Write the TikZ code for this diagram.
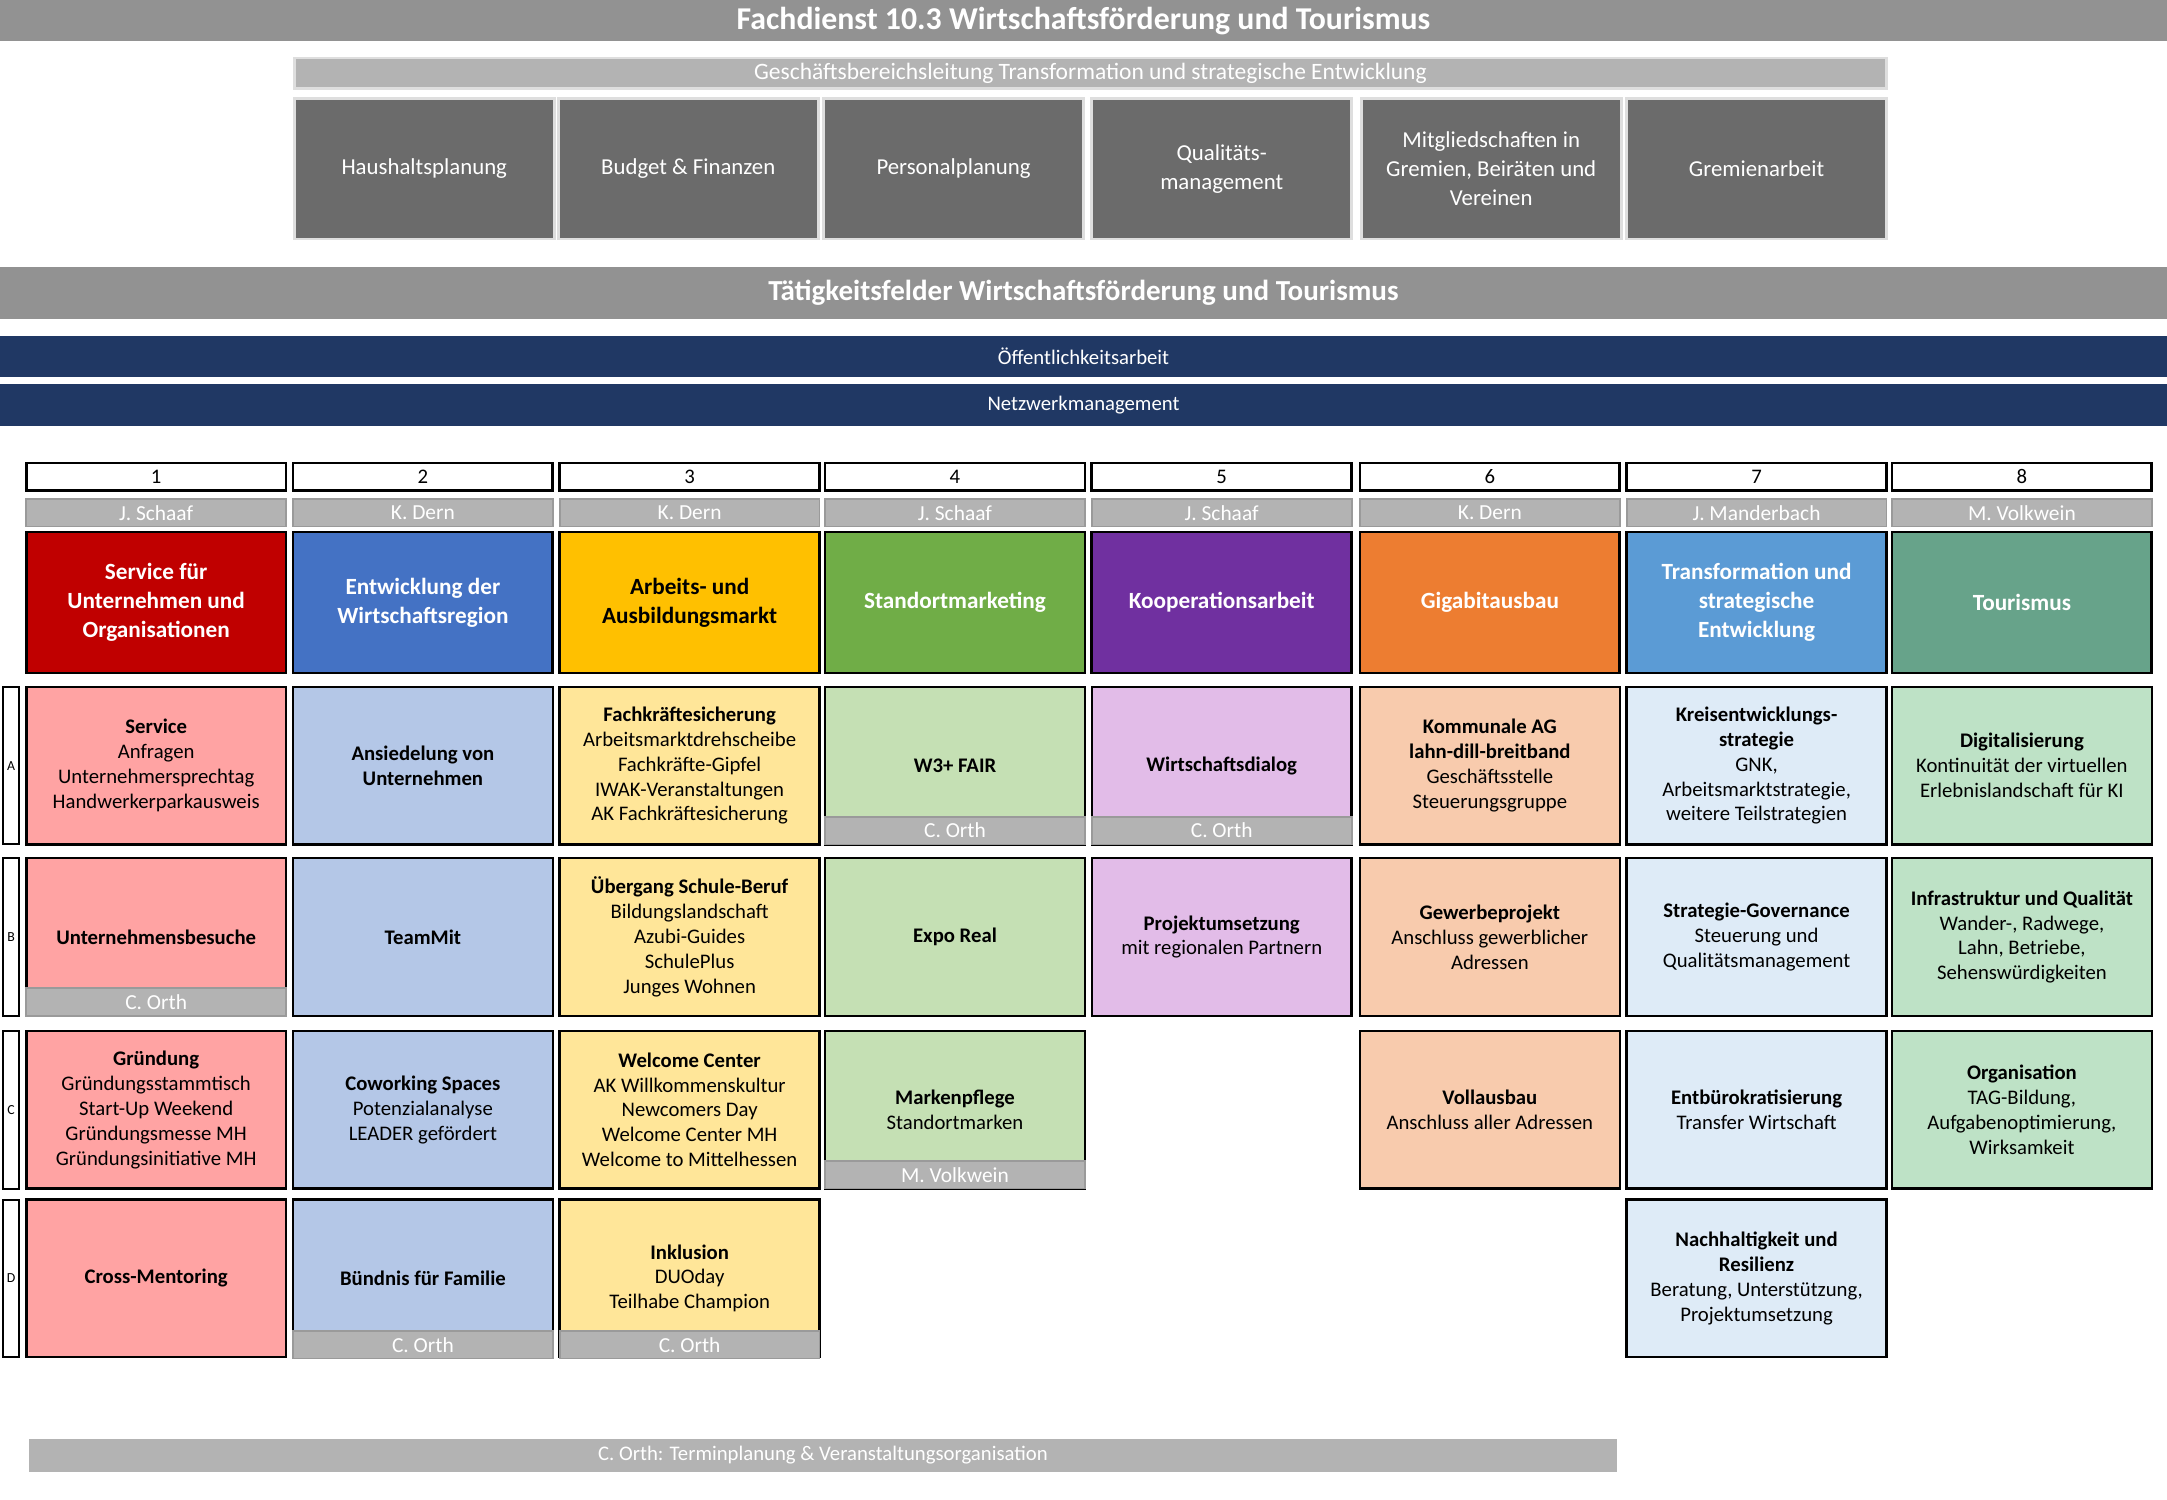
\documentclass[tikz,border=0pt]{standalone}
\usepackage{fontspec}
\setmainfont{Carlito}
\definecolor{titlegray}{HTML}{929292}
\definecolor{bandgray}{HTML}{B3B3B3}
\definecolor{bandedge}{HTML}{9A9A9A}
\definecolor{lightedge}{HTML}{DEDEDE}
\definecolor{darkbox}{HTML}{6B6B6B}
\definecolor{navy}{HTML}{203864}
\definecolor{hA}{HTML}{C00000}
\definecolor{hB}{HTML}{4472C4}
\definecolor{hC}{HTML}{FFC000}
\definecolor{hD}{HTML}{70AD47}
\definecolor{hE}{HTML}{7030A0}
\definecolor{hF}{HTML}{ED7D31}
\definecolor{hG}{HTML}{5B9BD5}
\definecolor{hH}{HTML}{67A38A}
\definecolor{cA}{HTML}{FFA3A3}
\definecolor{cB}{HTML}{B4C7E7}
\definecolor{cC}{HTML}{FFE699}
\definecolor{cD}{HTML}{C5E0B4}
\definecolor{cE}{HTML}{E2BCE8}
\definecolor{cF}{HTML}{F8CBAD}
\definecolor{cG}{HTML}{DEEBF7}
\definecolor{cH}{HTML}{BEE2C6}
\begin{document}
\begin{tikzpicture}[x=1pt,y=-1pt,
  every node/.style={inner sep=0pt, outer sep=0pt, align=center},
  wide/.style={anchor=north west, text=white},
  topbox/.style={fill=darkbox, draw=lightedge, line width=2pt, text=white, font=\fontsize{16.5}{21}\selectfont, minimum width=188pt, minimum height=102pt, anchor=north west},
  numbox/.style={draw=black, line width=2pt, fill=white, font=\fontsize{15}{16}\selectfont, minimum width=188pt, minimum height=20pt, anchor=north west},
  band/.style={fill=bandgray, draw=bandedge, line width=1.3pt, text=white, font=\fontsize{15.5}{16}\selectfont, minimum width=188pt, minimum height=20pt, anchor=north west},
  hdr/.style={draw=black, line width=2pt, text=white, font=\fontsize{16.8}{21}\selectfont\bfseries, minimum width=188pt, minimum height=102pt, anchor=north west},
  cell/.style={draw=black, line width=1.8pt, text=black, font=\fontsize{15}{18}\selectfont, minimum width=188pt, minimum height=114pt, anchor=north west},
  rowlab/.style={draw=black, line width=1.5pt, fill=white, font=\fontsize{10}{11}\selectfont, minimum width=12pt, minimum height=114pt, anchor=north west}
]
\useasboundingbox (0,0) rectangle (1568,1085);

% top bars
\node[wide, fill=titlegray, minimum width=1568pt, minimum height=30pt, font=\fontsize{23}{26}\selectfont\bfseries] (title) at (0,0) {Fachdienst 10.3 Wirtschaftsförderung und Tourismus};
\node[wide, fill=bandgray, draw=lightedge, line width=2pt, minimum width=1152pt, minimum height=22pt, font=\fontsize{17}{18}\selectfont] (gbl) at (213,42) {Geschäftsbereichsleitung Transformation und strategische Entwicklung};

\node[topbox] (t1) at (213,71) {Haushaltsplanung};
\node[topbox] (t2) at (404,71) {Budget \& Finanzen};
\node[topbox] (t3) at (596,71) {Personalplanung};
\node[topbox] (t4) at (790,71) {Qualitäts-\\management};
\node[topbox] (t5) at (985,71) {Mitgliedschaften in\\Gremien, Beiräten und\\Vereinen};
\node[topbox] (t6) at (1177,71) {Gremienarbeit};

\node[wide, fill=titlegray, minimum width=1568pt, minimum height=38pt, font=\fontsize{21}{24}\selectfont\bfseries] (tf) at (0,193) {Tätigkeitsfelder Wirtschaftsförderung und Tourismus};
\node[wide, fill=navy, minimum width=1568pt, minimum height=30pt, font=\fontsize{15}{16}\selectfont] (oa) at (0,243) {Öffentlichkeitsarbeit};
\node[wide, fill=navy, minimum width=1568pt, minimum height=30pt, font=\fontsize{15}{16}\selectfont] (nm) at (0,278) {Netzwerkmanagement};

% numbers
\node[numbox] (n1) at (19,335) {1};
\node[numbox] (n2) at (212,335) {2};
\node[numbox] (n3) at (405,335) {3};
\node[numbox] (n4) at (597,335) {4};
\node[numbox] (n5) at (790,335) {5};
\node[numbox] (n6) at (984,335) {6};
\node[numbox] (n7) at (1177,335) {7};
\node[numbox] (n8) at (1369,335) {8};

% persons
\node[band] (p1) at (19,361) {J. Schaaf};
\node[band] (p2) at (212,361) {K. Dern};
\node[band] (p3) at (405,361) {K. Dern};
\node[band] (p4) at (597,361) {J. Schaaf};
\node[band] (p5) at (790,361) {J. Schaaf};
\node[band] (p6) at (984,361) {K. Dern};
\node[band] (p7) at (1177,361) {J. Manderbach};
\node[band] (p8) at (1369,361) {M. Volkwein};

% headers
\node[hdr, fill=hA] (h1) at (19,385) {Service für\\Unternehmen und\\Organisationen};
\node[hdr, fill=hB] (h2) at (212,385) {Entwicklung der\\Wirtschaftsregion};
\node[hdr, fill=hC, text=black] (h3) at (405,385) {Arbeits- und\\Ausbildungsmarkt};
\node[hdr, fill=hD] (h4) at (597,385) {Standortmarketing};
\node[hdr, fill=hE] (h5) at (790,385) {Kooperationsarbeit};
\node[hdr, fill=hF] (h6) at (984,385) {Gigabitausbau};
\node[hdr, fill=hG] (h7) at (1177,385) {Transformation und\\strategische\\Entwicklung};
\node[hdr, fill=hH] (h8) at (1369,385) {Tourismus};

% row labels
\node[rowlab] (rA) at (2,497) {A};
\node[rowlab] (rB) at (2,621) {B};
\node[rowlab] (rC) at (2,746) {C};
\node[rowlab] (rD) at (2,868) {D};

% row A
\node[cell, fill=cA] (a1) at (19,497) {\textbf{Service}\\Anfragen\\Unternehmersprechtag\\Handwerkerparkausweis};
\node[cell, fill=cB] (a2) at (212,497) {\textbf{Ansiedelung von}\\\textbf{Unternehmen}};
\node[cell, fill=cC] (a3) at (405,497) {\textbf{Fachkräftesicherung}\\Arbeitsmarktdrehscheibe\\Fachkräfte-Gipfel\\IWAK-Veranstaltungen\\AK Fachkräftesicherung};
\node[cell, fill=cD] (a4) at (597,497) {\textbf{W3+ FAIR}};
\node[cell, fill=cE] (a5) at (790,497) {\textbf{Wirtschaftsdialog}};
\node[cell, fill=cF] (a6) at (984,497) {\textbf{Kommunale AG}\\\textbf{lahn-dill-breitband}\\Geschäftsstelle\\Steuerungsgruppe};
\node[cell, fill=cG] (a7) at (1177,497) {\textbf{Kreisentwicklungs-}\\\textbf{strategie}\\GNK,\\Arbeitsmarktstrategie,\\weitere Teilstrategien};
\node[cell, fill=cH] (a8) at (1369,497) {\textbf{Digitalisierung}\\Kontinuität der virtuellen\\Erlebnislandschaft für KI};
\node[band] (a4b) at (597,591) {C. Orth};
\node[band] (a5b) at (790,591) {C. Orth};

% row B
\node[cell, fill=cA] (b1) at (19,621) {\textbf{Unternehmensbesuche}};
\node[cell, fill=cB] (b2) at (212,621) {\textbf{TeamMit}};
\node[cell, fill=cC] (b3) at (405,621) {\textbf{Übergang Schule-Beruf}\\Bildungslandschaft\\Azubi-Guides\\SchulePlus\\Junges Wohnen};
\node[cell, fill=cD] (b4) at (597,621) {\textbf{Expo Real}};
\node[cell, fill=cE] (b5) at (790,621) {\textbf{Projektumsetzung}\\mit regionalen Partnern};
\node[cell, fill=cF] (b6) at (984,621) {\textbf{Gewerbeprojekt}\\Anschluss gewerblicher\\Adressen};
\node[cell, fill=cG] (b7) at (1177,621) {\textbf{Strategie-Governance}\\Steuerung und\\Qualitätsmanagement};
\node[cell, fill=cH] (b8) at (1369,621) {\textbf{Infrastruktur und Qualität}\\Wander-, Radwege,\\Lahn, Betriebe,\\Sehenswürdigkeiten};
\node[band] (b1b) at (19,715) {C. Orth};

% row C
\node[cell, fill=cA] (c1) at (19,746) {\textbf{Gründung}\\Gründungsstammtisch\\Start-Up Weekend\\Gründungsmesse MH\\Gründungsinitiative MH};
\node[cell, fill=cB] (c2) at (212,746) {\textbf{Coworking Spaces}\\Potenzialanalyse\\LEADER gefördert};
\node[cell, fill=cC] (c3) at (405,746) {\textbf{Welcome Center}\\AK Willkommenskultur\\Newcomers Day\\Welcome Center MH\\Welcome to Mittelhessen};
\node[cell, fill=cD] (c4) at (597,746) {\textbf{Markenpflege}\\Standortmarken};
\node[cell, fill=cF] (c6) at (984,746) {\textbf{Vollausbau}\\Anschluss aller Adressen};
\node[cell, fill=cG] (c7) at (1177,746) {\textbf{Entbürokratisierung}\\Transfer Wirtschaft};
\node[cell, fill=cH] (c8) at (1369,746) {\textbf{Organisation}\\TAG-Bildung,\\Aufgabenoptimierung,\\Wirksamkeit};
\node[band] (c4b) at (597,840) {M. Volkwein};

% row D
\node[cell, fill=cA] (d1) at (19,868) {\textbf{Cross-Mentoring}};
\node[cell, fill=cB] (d2) at (212,868) {\textbf{Bündnis für Familie}};
\node[cell, fill=cC] (d3) at (405,868) {\textbf{Inklusion}\\DUOday\\Teilhabe Champion};
\node[cell, fill=cG] (d7) at (1177,868) {\textbf{Nachhaltigkeit und}\\\textbf{Resilienz}\\Beratung, Unterstützung,\\Projektumsetzung};
\node[band] (d2b) at (212,963) {C. Orth};
\node[band] (d3b) at (405,963) {C. Orth};

% bottom bar
\node[wide, fill=bandgray, minimum width=1149pt, minimum height=24pt, font=\fontsize{15}{16}\selectfont] (foot) at (21,1041) {C. Orth: Terminplanung \& Veranstaltungsorganisation};
\end{tikzpicture}
\end{document}
